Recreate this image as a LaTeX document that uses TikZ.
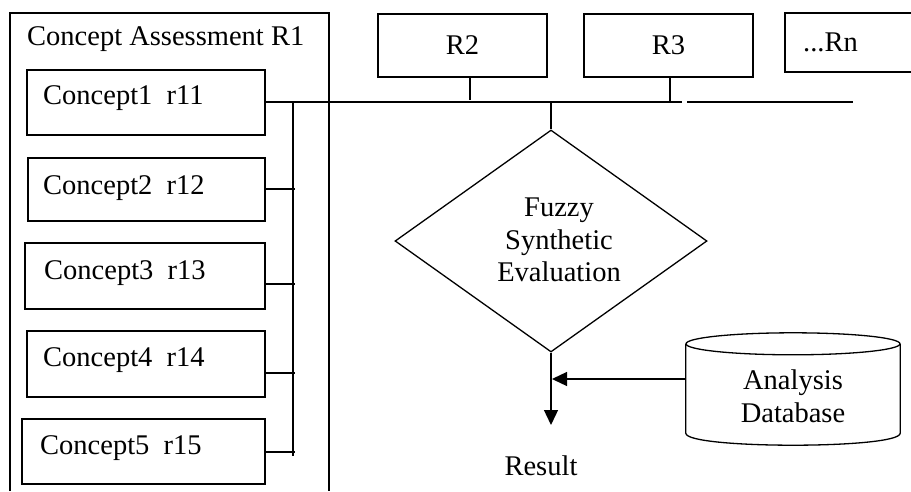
\documentclass[tikz,border=0pt]{standalone}
\usepackage{fontspec}
\setmainfont{Liberation Serif}
\usetikzlibrary{shapes.geometric,arrows.meta}
\begin{document}
\begin{tikzpicture}[x=1pt,y=-1pt,
  every node/.style={font=\fontsize{28.5}{32.5}\selectfont},
  ln/.style={line width=1.3pt},
  box/.style={draw, line width=1.3pt, rectangle, inner sep=0pt},
  lbl/.style={anchor=base west, inner sep=0pt},
  tip/.style={-{Triangle[length=15pt,width=14pt]}}]

\useasboundingbox (0,0) rectangle (911,491);

% outer frame of the first assessment group (open at the bottom)
\draw[ln] (10,491) -- (10,13) -- (329,13) -- (329,491);
\node[lbl] (r1title) at (27,45) {Concept Assessment R1};

% concept boxes
\node[box, minimum width=238pt, minimum height=65pt] (c1) at (146,102.5) {};
\node[box, minimum width=237pt, minimum height=63pt] (c2) at (146.5,189.5) {};
\node[box, minimum width=240pt, minimum height=66pt] (c3) at (145,276) {};
\node[box, minimum width=238pt, minimum height=66pt] (c4) at (146,364) {};
\node[box, minimum width=243pt, minimum height=65pt] (c5) at (143.5,451.5) {};

\node[lbl] (t1) at (43,104) {Concept1~~r11};
\node[lbl] (t2) at (43,194) {Concept2~~r12};
\node[lbl] (t3) at (44,279) {Concept3~~r13};
\node[lbl] (t4) at (43,366) {Concept4~~r14};
\node[lbl] (t5) at (40,454) {Concept5~~r15};

% other assessment groups
\node[box, minimum width=169pt, minimum height=63pt] (r2) at (462.5,45.5) {R2};
\node[box, minimum width=169pt, minimum height=63pt] (r3) at (668.5,45.5) {R3};
\node[box, minimum width=140pt, minimum height=59pt] (rn) at (855,42.5) {};
\node[lbl] (rntext) at (803,51) {...Rn};

% evaluation
\node[draw, line width=1.3pt, diamond, inner sep=0pt,
      minimum width=312pt, minimum height=222pt] (fse) at (551,241) {};
\node[align=center, inner sep=0pt] (fsetext) at (559,240) {Fuzzy\\Synthetic\\Evaluation};

% database
\node[inner sep=0pt, minimum width=214pt, minimum height=89pt] (db) at (793,388.5) {};
\draw[ln] (db.north west) -- (db.south west)
  .. controls +(0,16) and +(0,16) .. (db.south east) -- (db.north east);
\draw[ln] (db.north) ellipse [x radius=107pt, y radius=11pt];
\node[align=center, inner sep=0pt] (dbtext) at (793,396) {Analysis\\Database};

\node[inner sep=0pt] (res) at (541,466) {Result};

% bus junctions
\coordinate (v1) at (293,102);
\coordinate (v2) at (295,189);
\coordinate (v3) at (295,284);
\coordinate (v4) at (295,373);
\coordinate (v5) at (295,452);
\coordinate (vb) at (293,456);
\coordinate (d2) at (470,102);
\coordinate (d3) at (670,102);
\coordinate (df) at (551,102);
\coordinate (gl) at (682,102);
\coordinate (gr) at (687,102);
\coordinate (be) at (853,102);
\coordinate (rend) at (551,425);
\coordinate (ha) at (552,379);

% connectors
\draw[ln] (c1.east |- v1) -- (gl);
\draw[ln] (gr) -- (be);
\draw[ln] (v1) -- (vb);
\draw[ln] (c2.east |- v2) -- (v2);
\draw[ln] (c3.east |- v3) -- (v3);
\draw[ln] (c4.east |- v4) -- (v4);
\draw[ln] (c5.east |- v5) -- (v5);
\draw[ln] (r2.south -| d2) -- ([yshift=2pt]d2);
\draw[ln] (r3.south -| d3) -- (d3);
\draw[ln] (df) -- (fse.north);
\draw[ln, tip] (fse.south) -- (rend);
\draw[ln, tip] (db.west |- ha) -- (ha);
\end{tikzpicture}
\end{document}
